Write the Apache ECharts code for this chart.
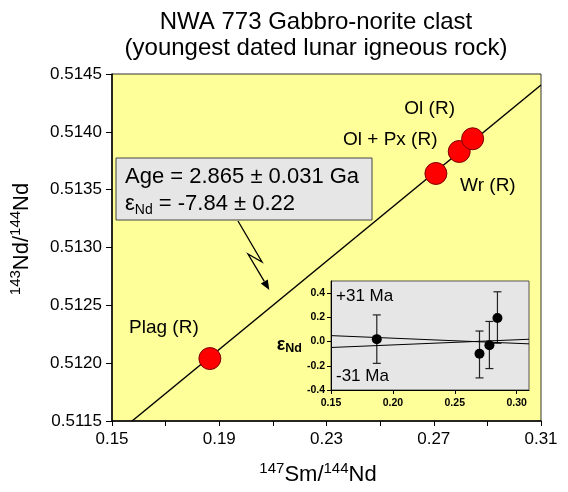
<!DOCTYPE html>
<html><head><meta charset="utf-8">
<script src="https://cdn.jsdelivr.net/npm/echarts@6/dist/echarts.min.js"></script>
<style>html,body{margin:0;padding:0;background:#fff}#c{width:568px;height:492px}</style>
</head><body><div id="c"></div>
<script>
const FONT = "'Liberation Sans', Arial, Helvetica, sans-serif";
// Main isochron data
const sampleNames = ['Plag (R)', 'Wr (R)', 'Ol + Px (R)', 'Ol (R)'];
const smNd = [0.1865, 0.2708, 0.2795, 0.2845];
const ndNd = [0.51204, 0.51364, 0.51383, 0.51394];
const isochronX = [0.1575, 0.31];
const isochronY = [0.5115, 0.514405];
const xTicks = [0.15, 0.17, 0.19, 0.21, 0.23, 0.25, 0.27, 0.29, 0.31];
const xTickLabels = [0.15, 0.19, 0.23, 0.27, 0.31];
const yTickLabels = [0.5115, 0.5120, 0.5125, 0.5130, 0.5135, 0.5140, 0.5145];
// Inset (epsilon Nd deviations)
const insetX = [0.187, 0.270, 0.278, 0.2845];
const epsNd = [0.02, -0.10, -0.03, 0.195];
const epsLow = [-0.18, -0.30, -0.223, -0.014];
const epsHigh = [0.22, 0.087, 0.166, 0.411];
const plusLineX = [0.15, 0.31];
const plusLineY = [0.049, -0.019];
const minusLineX = [0.15, 0.31];
const minusLineY = [-0.049, 0.019];
const insetXTicks = [0.15, 0.20, 0.25, 0.30];
const insetYTicks = [-0.4, -0.2, 0.0, 0.2, 0.4];

// label offsets (styling, not data)
const labelOffsets = [[-46, -31], [52, 12], [-69, -12], [-43, -30]];

const zip = (a, b) => a.map((v, i) => [v, b[i]]);

const chart = echarts.init(document.getElementById('c'), null, {renderer: 'canvas'});

const supRich = {
  n: {fontFamily: FONT, fontSize: 22, lineHeight: 28, color: '#000'},
  s: {fontFamily: FONT, fontSize: 15, lineHeight: 15, verticalAlign: 'top', color: '#000'}
};

const option = {
  animation: false,
  backgroundColor: '#fff',
  title: {
    text: 'NWA 773 Gabbro-norite clast\n(youngest dated lunar igneous rock)',
    left: 311, top: 4, textAlign: 'center',
    textStyle: {fontFamily: FONT, fontSize: 24, fontWeight: 'normal', color: '#000', lineHeight: 26}
  },
  grid: [
    {left: 112, top: 74, right: 27, bottom: 71, show: true, backgroundColor: '#FFFF99', borderColor: '#333', borderWidth: 1},
    {left: 331, top: 281, right: 39, bottom: 102, show: true, backgroundColor: '#E6E6E6', borderColor: '#555', borderWidth: 1}
  ],
  xAxis: [
    {
      type: 'value', gridIndex: 0, min: 0.15, max: 0.31,
      axisLine: {show: true, onZero: false, lineStyle: {color: '#000', width: 1.5}},
      axisTick: {show: true, inside: false, length: 5, customValues: xTicks, lineStyle: {color: '#000'}},
      axisLabel: {customValues: xTickLabels, formatter: v => v.toFixed(2), fontFamily: FONT, fontSize: 17, color: '#000', margin: 10},
      splitLine: {show: false},
      name: '{s|147}{n|Sm/}{s|144}{n|Nd}', nameLocation: 'middle', nameGap: 40,
      nameTextStyle: {padding: [0, 17, 0, 0], rich: supRich}
    },
    {
      type: 'value', gridIndex: 1, min: 0.15, max: 0.31,
      axisLine: {show: true, onZero: false, lineStyle: {color: '#000', width: 1}},
      axisTick: {show: true, inside: false, length: 4, customValues: insetXTicks, lineStyle: {color: '#000'}},
      axisLabel: {customValues: insetXTicks, formatter: v => v.toFixed(2), fontFamily: FONT, fontSize: 10.5, fontWeight: 'bold', color: '#000', margin: 8},
      splitLine: {show: false}
    }
  ],
  yAxis: [
    {
      type: 'value', gridIndex: 0, min: 0.5115, max: 0.5145,
      axisLine: {show: true, onZero: false, lineStyle: {color: '#000', width: 1.5}},
      axisTick: {show: true, inside: false, length: 6, customValues: yTickLabels, lineStyle: {color: '#000'}},
      axisLabel: {customValues: yTickLabels, formatter: v => v.toFixed(4), fontFamily: FONT, fontSize: 17, color: '#000', margin: 10},
      splitLine: {show: false},
      name: '{s|143}{n|Nd/}{s|144}{n|Nd}', nameLocation: 'middle', nameRotate: 90, nameGap: 76,
      nameTextStyle: {padding: [0, 0, 0, 17], rich: supRich}
    },
    {
      type: 'value', gridIndex: 1, min: -0.4, max: 0.5,
      axisLine: {show: true, onZero: false, lineStyle: {color: '#000', width: 1}},
      axisTick: {show: true, inside: false, length: 4, customValues: insetYTicks, lineStyle: {color: '#000'}},
      axisLabel: {customValues: insetYTicks, formatter: v => v.toFixed(1), fontFamily: FONT, fontSize: 10.5, fontWeight: 'bold', color: '#000', margin: 6},
      splitLine: {show: false},
      name: '{e|ε}{s|Nd}', nameLocation: 'middle', nameRotate: 0, nameGap: 25,
      nameTextStyle: {padding: [19, 0, 0, 0], rich: {
        e: {fontFamily: FONT, fontSize: 18, fontWeight: 'bold', color: '#000', lineHeight: 20},
        s: {fontFamily: FONT, fontSize: 12.5, fontWeight: 'bold', color: '#000', lineHeight: 8, verticalAlign: 'bottom'}
      }}
    }
  ],
  series: [
    {
      type: 'line', xAxisIndex: 0, yAxisIndex: 0, data: zip(isochronX, isochronY),
      symbol: 'none', silent: true, lineStyle: {color: '#000', width: 1.5}, z: 2
    },
    {
      type: 'scatter', xAxisIndex: 0, yAxisIndex: 0, symbolSize: 22, z: 3,
      itemStyle: {color: '#FF0000', borderColor: '#7a0000', borderWidth: 1, opacity: 1},
      label: {show: true, formatter: '{b}', position: 'inside', fontFamily: FONT, fontSize: 19, color: '#000'},
      data: smNd.map((x, i) => ({name: sampleNames[i], value: [x, ndNd[i]], label: {offset: labelOffsets[i]}}))
    },
    {
      type: 'line', xAxisIndex: 1, yAxisIndex: 1, data: zip(plusLineX, plusLineY),
      symbol: 'none', silent: true, lineStyle: {color: '#000', width: 1}
    },
    {
      type: 'line', xAxisIndex: 1, yAxisIndex: 1, data: zip(minusLineX, minusLineY),
      symbol: 'none', silent: true, lineStyle: {color: '#000', width: 1}
    },
    {
      type: 'custom', xAxisIndex: 1, yAxisIndex: 1, silent: true,
      data: insetX.map((x, i) => [x, epsLow[i], epsHigh[i]]),
      encode: {x: 0, y: [1, 2]},
      renderItem: (params, api) => {
        const x = api.value(0), lo = api.value(1), hi = api.value(2);
        const a = api.coord([x, hi]), b = api.coord([x, lo]);
        const w = 4, st = {stroke: '#222', lineWidth: 1.2};
        return {type: 'group', children: [
          {type: 'line', shape: {x1: a[0], y1: a[1], x2: b[0], y2: b[1]}, style: st},
          {type: 'line', shape: {x1: a[0] - w, y1: a[1], x2: a[0] + w, y2: a[1]}, style: st},
          {type: 'line', shape: {x1: b[0] - w, y1: b[1], x2: b[0] + w, y2: b[1]}, style: st}
        ]};
      }
    },
    {
      type: 'scatter', xAxisIndex: 1, yAxisIndex: 1, symbolSize: 10, z: 4,
      itemStyle: {color: '#000', opacity: 1}, data: zip(insetX, epsNd)
    }
  ],
  graphic: [
    {type: 'rect', z: 10, shape: {x: 116, y: 158, width: 256, height: 62},
     style: {fill: '#E6E6E6', stroke: '#444', lineWidth: 1}},
    {type: 'text', z: 11, style: {
      x: 125, y: 163, align: 'left', verticalAlign: 'top',
      text: '{a|Age = 2.865 ± 0.031 Ga}\n{e|ε}{sub|Nd}{a| = -7.84 ± 0.22}',
      rich: {
        a: {fontFamily: FONT, fontSize: 22, lineHeight: 27, fill: '#000'},
        e: {fontFamily: FONT, fontSize: 22, lineHeight: 27, fill: '#000'},
        sub: {fontFamily: FONT, fontSize: 14, lineHeight: 10, verticalAlign: 'bottom', fill: '#000'}
      }
    }},
    {type: 'polyline', z: 10, shape: {points: [[238, 221], [262, 262], [248, 254], [264.3, 281.4]]},
     style: {stroke: '#000', lineWidth: 1.3, fill: null}},
    {type: 'polygon', z: 10, shape: {points: [[269.3, 290], [260.8, 283.4], [267.8, 279.4]]},
     style: {fill: '#000'}},
    {type: 'text', z: 10, style: {x: 336, y: 296, text: '+31 Ma', align: 'left', verticalAlign: 'middle',
      fontFamily: FONT, fontSize: 17, fill: '#000'}},
    {type: 'text', z: 10, style: {x: 336, y: 376, text: '-31 Ma', align: 'left', verticalAlign: 'middle',
      fontFamily: FONT, fontSize: 17, fill: '#000'}}
  ]
};
chart.setOption(option);
</script></body></html>
